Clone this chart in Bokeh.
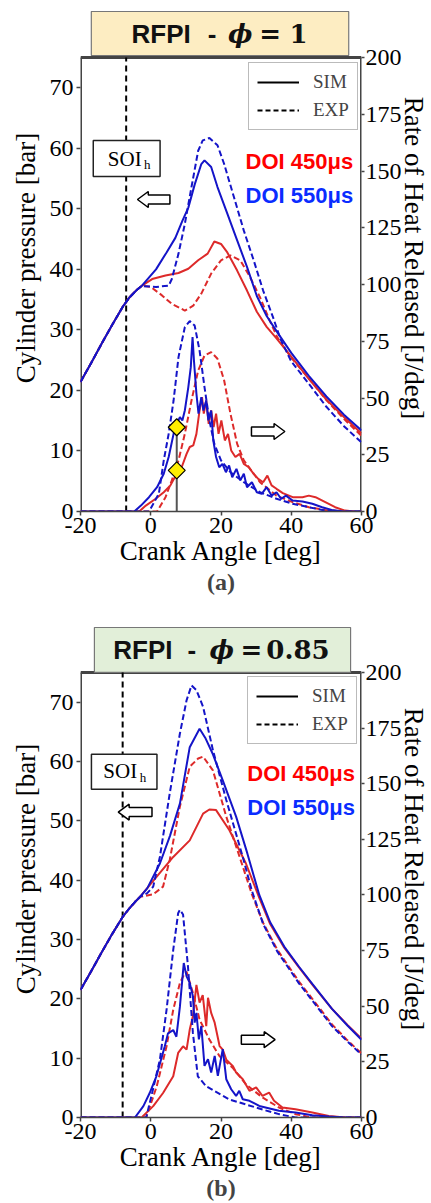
import numpy as np
from bokeh.plotting import figure
from bokeh.models import Range1d, LinearAxis, FixedTicker, Legend, LegendItem
from bokeh.layouts import column
from bokeh.embed import file_html
from bokeh.resources import INLINE
from bokeh.core.properties import value

SERIF = "Liberation Serif"
SANS = "Liberation Sans"
RED = "#DD2A2A"
BLUE = "#1414C8"
RED_TXT = "#FF0000"
BLUE_TXT = "#0A2CFF"

# ---------------- data : panel (a)  RFPI - phi = 1 ----------------
X_TICKS = [-20, 0, 20, 40, 60]
X_TICK_LABELS = {-20: "-20", 0: "0", 20: "20", 40: "40", 60: "60"}
P_TICKS = [0, 10, 20, 30, 40, 50, 60, 70]
HRR_TICKS = [0, 25, 50, 75, 100, 125, 150, 175, 200]

A_COMP_CA = [-20, -17, -14, -11, -8, -6, -4, -2.5]
A_COMP_P = [21.4, 24.5, 27.7, 30.8, 33.8, 35.4, 36.6, 37.3]

A_SIM450_CA = [0.4, 4.2, 7.9, 10.7, 13.5, 16.2, 18.1, 20.0, 21.8, 24.6, 27.4, 30.2, 33.0, 35.8, 40, 45, 50, 55, 60]
A_SIM450_P = [38.4, 39.0, 39.4, 40.1, 41.5, 42.6, 44.6, 44.2, 42.8, 39.8, 36.5, 33.0, 30.5, 28.6, 25.6, 21.9, 18.5, 15.6, 12.9]
A_SIM550_CA = [1.5, 4.5, 7.0, 9.0, 10.7, 12.5, 14.4, 15.3, 17.2, 19.0, 21.8, 24.6, 27.4, 30.2, 33.0, 35.8, 40, 45, 50, 55, 60]
A_SIM550_P = [40.0, 42.8, 45.2, 48.0, 50.2, 54.0, 57.4, 58.0, 56.9, 53.6, 49.2, 44.8, 40.4, 35.6, 32.3, 29.8, 26.2, 22.4, 19.0, 16.0, 13.4]
A_EXP450_CA = [0.0, 3.2, 6.0, 9.7, 12.1, 14.4, 17.2, 20.0, 22.7, 25.5, 28.3, 31.1, 33.9, 36.0, 40, 45, 50, 55, 60]
A_EXP450_P = [37.1, 35.7, 34.3, 33.2, 34.0, 36.0, 39.3, 41.5, 42.3, 41.5, 38.7, 35.4, 31.5, 28.8, 25.4, 22.0, 18.4, 15.3, 12.5]
A_EXP550_CA = [-1.9, 1.5, 5.1, 6.0, 7.9, 9.7, 11.6, 13.5, 14.8, 16.7, 19.0, 20.9, 23.7, 26.5, 29.3, 32.0, 34.8, 37.0, 40, 45, 50, 55, 60]
A_EXP550_P = [37.2, 37.1, 37.3, 38.4, 42.6, 47.5, 53.6, 59.6, 61.3, 61.7, 60.5, 57.4, 51.9, 46.4, 41.5, 36.5, 32.1, 28.4, 24.8, 21.1, 17.3, 14.1, 11.4]

A_HRR_SIM550_CA = [-20, -4.7, -2.8, -0.5, 1.8, 3.7, 5.1, 6.5, 7.4, 8.3, 9.0, 9.7, 10.7, 11.4, 11.9, 12.3, 13.0, 13.6, 14.4, 15.0, 15.8, 16.4, 17.2, 17.8, 18.6, 19.5, 20.4, 21.4, 22.3, 23.2, 24.4, 25.5, 26.5, 27.4, 28.8, 30.2, 31.6, 33.0, 34.4, 35.8, 37.1, 38.5, 40.4, 43.2, 46.0, 48.8, 51.5, 54.3, 60]
A_HRR_SIM550 = [0, 0, 2.6, 6.3, 10.7, 16.6, 24.0, 34.2, 38.6, 41.6, 40.1, 44.5, 54.8, 63.6, 76.8, 66.5, 51.9, 43.1, 50.4, 44.5, 48.9, 40.1, 44.5, 31.3, 24.0, 19.5, 21.0, 17.3, 20.3, 15.1, 18.8, 13.7, 16.6, 10.7, 12.9, 8.5, 7.8, 10.7, 7.0, 8.5, 5.6, 7.0, 4.8, 4.4, 3.4, 1.9, 0.7, 0.1, 0]
A_HRR_SIM450_CA = [-20, -3.3, -1.4, 1.4, 3.7, 5.6, 7.4, 8.8, 10.2, 11.1, 12.1, 13.0, 13.9, 14.6, 15.1, 15.8, 16.5, 17.2, 17.9, 18.6, 19.3, 20.1, 21.1, 22.0, 22.9, 24.1, 25.3, 26.5, 27.9, 29.3, 30.6, 32.0, 33.2, 34.4, 35.8, 37.6, 40.4, 43.2, 45.0, 46.9, 49.7, 52.5, 55.3, 58.0, 60]
A_HRR_SIM450 = [0, 0, 2.6, 5.6, 8.5, 11.5, 16.6, 19.5, 25.4, 28.4, 29.1, 34.2, 44.5, 50.4, 43.1, 48.9, 38.6, 44.5, 37.2, 43.1, 34.2, 40.1, 31.3, 34.2, 26.9, 24.0, 25.4, 21.0, 19.5, 16.6, 14.4, 12.9, 15.8, 11.5, 10.0, 8.1, 6.3, 6.3, 7.0, 6.3, 4.1, 1.9, 0.4, 0, 0]
A_HRR_EXP550_CA = [-20, -0.5, 2.3, 3.7, 5.1, 6.5, 7.9, 9.7, 11.1, 12.5, 13.9, 15.3, 16.7, 18.1, 20.0, 22.7, 26.5, 31.1, 35.8, 40.4, 45.0, 49.7, 52.5, 60]
A_HRR_EXP550 = [0, 0, 7.8, 22.5, 34.2, 48.9, 68.0, 81.2, 83.9, 81.9, 70.9, 54.8, 40.1, 29.8, 22.5, 17.3, 12.9, 8.5, 5.6, 3.4, 1.9, 0.4, 0, 0]
A_HRR_EXP450_CA = [-20, 1.8, 4.2, 6.0, 7.9, 9.7, 11.6, 13.5, 15.3, 17.2, 19.0, 20.9, 22.7, 24.6, 26.5, 31.1, 35.8, 40.4, 45.0, 49.7, 54.3, 60]
A_HRR_EXP450 = [0, 0, 6.3, 13.7, 22.5, 34.2, 48.9, 62.1, 68.7, 70.2, 67.3, 57.7, 43.0, 29.8, 22.5, 12.9, 7.0, 4.1, 1.9, 0.7, 0, 0]

A_SOI_CA = -7.0
A_MARK_CA = [7.4, 7.4]
A_MARK_HRR = [37.1, 18.1]

# ---------------- data : panel (b)  RFPI - phi = 0.85 ----------------
B_COMP_CA = [-20, -17, -14, -11, -8, -6, -4.5, -3]
B_COMP_P = [21.5, 24.6, 27.8, 30.9, 33.8, 35.3, 36.3, 37.2]

B_SIM450_CA = [1.7, 6.4, 11.1, 14.9, 16.7, 18.6, 22.4, 27.1, 30.9, 34, 38, 42.2, 46, 51.6, 56, 60]
B_SIM450_P = [40.6, 43.9, 46.7, 51.2, 51.9, 51.8, 48.4, 42.8, 37.0, 32.6, 28.6, 25.3, 22.4, 18.3, 15.6, 13.3]
B_SIM550_CA = [-1, 2.6, 5.5, 8.3, 11.1, 13.9, 15.5, 17.7, 20.5, 24.3, 27.5, 30.9, 34, 38, 42.2, 46, 51.6, 56, 60]
B_SIM550_P = [38.6, 42.8, 47.5, 52.9, 62.4, 65.5, 64.0, 61.2, 56.8, 50.7, 44.5, 37.5, 32.9, 28.8, 25.4, 22.5, 18.3, 15.5, 13.1]
B_EXP450_CA = [0.7, 3.5, 5.4, 8.3, 11.1, 13.5, 14.9, 17.7, 21.5, 26.2, 28.8, 32, 36, 42.2, 46, 51.6, 56, 60]
B_EXP450_P = [37.6, 38.9, 43.4, 52.4, 59.1, 60.5, 60.8, 58.5, 50.7, 42.3, 37.6, 32.8, 28.3, 22.9, 20.0, 15.7, 13.0, 10.8]
B_EXP550_CA = [-1, 0.7, 2.6, 5.4, 8.3, 10.2, 11.6, 13.0, 14.9, 17.7, 21.5, 26.2, 28.8, 32, 36, 42.2, 46, 51.6, 56, 60]
B_EXP550_P = [37.8, 38.9, 43.9, 54.6, 64.7, 70.3, 72.8, 72.0, 69.2, 61.9, 53.5, 43.9, 38.2, 32.6, 28.0, 22.6, 19.7, 15.4, 12.8, 10.6]

B_HRR_SIM550_CA = [-20, -4.5, -2.1, -0.3, 1.6, 4.0, 4.9, 6.4, 7.3, 8.3, 9.4, 10.2, 11.1, 12.0, 12.5, 13.0, 13.7, 14.4, 15.3, 16.3, 17.2, 18.2, 19.1, 20.5, 21.5, 22.9, 24.3, 25.2, 26.2, 28.1, 30.9, 36.5, 41.2, 46, 50.7, 55, 60]
B_HRR_SIM550 = [0, 0, 5.1, 11, 18.5, 32, 37.8, 39.3, 36.3, 49.8, 69.4, 63.4, 60.5, 54.5, 42.6, 47, 35.1, 41.1, 23.2, 26.2, 20.2, 27.7, 18.7, 30.7, 17.2, 12.7, 9.7, 12, 8.2, 7.5, 5.2, 3, 2.2, 1, 0.4, 0, 0]
B_HRR_SIM450_CA = [-20, -2.6, 0.7, 3.5, 6.4, 7.8, 9.2, 10.2, 11.1, 12, 13, 13.9, 14.8, 15.8, 16.3, 17.2, 18.2, 19.6, 20.5, 21.5, 23.4, 24.3, 26.2, 28.1, 30, 31.8, 33.7, 35.1, 37.5, 41.2, 46, 50.7, 55.4, 60]
B_HRR_SIM450 = [0, 0, 5.1, 11, 18.5, 29, 32, 30.5, 39.5, 45.5, 59.6, 51.6, 55, 41, 53.8, 47, 42.6, 32.1, 30.5, 26, 23, 20.2, 17.2, 12, 13.5, 9.7, 11.2, 7.5, 4.5, 3.7, 2.2, 0.7, 0, 0]
B_HRR_EXP550_CA = [-20, -1.3, 0.4, 2.6, 4.5, 6.4, 7.8, 8.3, 9.2, 10.6, 12.0, 13.4, 15.8, 22.4, 31.8, 36.5, 41.2, 60]
B_HRR_EXP550 = [0, 0, 11, 26, 48.4, 75.3, 91.8, 93.3, 91.2, 67.8, 38, 18.5, 14, 8.1, 3.6, 1.5, 0, 0]
B_HRR_EXP450_CA = [-20, -1.3, 1.7, 4.5, 6.4, 8.3, 9.7, 10.2, 12, 13.9, 16.7, 19.6, 23.3, 27.1, 31.8, 36.5, 41.2, 46, 60]
B_HRR_EXP450 = [0, 0, 14, 32, 48.4, 60.4, 64.9, 65.5, 56, 44, 35, 27.5, 22.4, 14.9, 9, 4.5, 1.5, 0, 0]

B_SOI_CA = -8.0

# ---------------- layout constants (canvas pixels) ----------------
PANEL_A = dict(H=600, L=75, R=361, B=511, Y75=57, T=4, tag="(a)",
               title_box=(86, 348, 11, 55), title_y=33, title_fill="#FDEDC2",
               t_rfpi=127, t_dash=209, t_phi=225, t_eq=268, t_val=297, val="1",
               legend_box=(243, 130), soi_box=(88, 156, 140, 176), soi_txt=(120, 158), soi_h=(143, 164),
               doi=(243, 161, 195), larrow=(133, 166, 199), rarrow=(249, 283, 431))
PANEL_B = dict(H=603, L=80, R=363, B=518, Y75=72, T=20, tag="(b)",
               title_box=(94, 352, 27, 72), title_y=49.5, title_fill="#E2EFD9",
               t_rfpi=113, t_dash=192, t_phi=210, t_eq=252, t_val=299, val="0.85",
               legend_box=(247, 145), soi_box=(91, 157, 154, 189), soi_txt=(120, 171), soi_h=(143, 177),
               doi=(248, 173, 207), larrow=(118, 152, 212), rarrow=(242, 276, 440))


def style_axis(ax, label_size="27px"):
    ax.major_label_text_font = SERIF
    ax.major_label_text_font_size = "24px"
    ax.major_label_text_color = "black"
    ax.axis_label_text_font = SERIF
    ax.axis_label_text_font_size = label_size
    ax.axis_label_text_font_style = "normal"
    ax.axis_label_text_color = "black"
    ax.major_tick_out = 4
    ax.major_tick_in = 0
    ax.minor_tick_line_color = None
    ax.major_tick_line_color = "#444444"
    ax.major_tick_line_width = 1.5
    ax.axis_line_color = "#444444"
    ax.axis_line_width = 1.5


def make_panel(c, pres, hrr, soi_ca, marks=None):
    L, R, B, Y75, T, H = c["L"], c["R"], c["B"], c["Y75"], c["T"], c["H"]

    def X(px):
        return -20 + (px - L) * 80.0 / (R - L)

    def Y(py):
        return (B - py) * 75.0 / (B - Y75)

    ytop = Y(T)
    p = figure(width=431, height=H, x_range=Range1d(-20, 60), y_range=Range1d(0, ytop),
               output_backend="svg", toolbar_location=None,
               min_border_left=L, min_border_right=431 - R, min_border_top=T,
               min_border_bottom=H - B)
    p.extra_y_ranges = {"hrr": Range1d(0, ytop * 200.0 / 75.0)}
    p.outline_line_color = None
    p.grid.visible = False
    p.background_fill_color = "white"
    p.border_fill_color = "white"

    p.xaxis.ticker = FixedTicker(ticks=X_TICKS)
    p.xaxis.major_label_overrides = X_TICK_LABELS
    p.xaxis.axis_label = "Crank Angle [deg]"
    style_axis(p.xaxis[0])
    p.xaxis.major_label_standoff = 2
    p.xaxis.axis_label_standoff = 0
    p.yaxis.ticker = FixedTicker(ticks=P_TICKS)
    p.yaxis.axis_label = "Cylinder pressure [bar]"
    style_axis(p.yaxis[0])
    p.yaxis.axis_line_color = None
    p.yaxis.major_label_standoff = 3
    p.yaxis.axis_label_standoff = 6

    right = LinearAxis(y_range_name="hrr", ticker=FixedTicker(ticks=HRR_TICKS),
                       axis_label="Rate of Heat Released [J/deg]")
    style_axis(right)
    right.axis_line_color = None
    right.major_tick_out = 3
    right.major_label_standoff = 1
    right.axis_label_standoff = -6
    p.add_layout(right, "right")

    tag = LinearAxis(ticker=FixedTicker(ticks=[]), axis_label=c["tag"])
    tag.axis_line_color = None
    tag.major_tick_line_color = None
    tag.major_label_text_font_size = "0px"
    tag.axis_label_text_font = SERIF
    tag.axis_label_text_font_size = "24px"
    tag.axis_label_text_font_style = "bold"
    tag.axis_label_standoff = 0
    p.add_layout(tag, "below")

    # frame (left, right, top edges)
    p.segment(x0=[-20, 60, -20], y0=[0, 0, 75], x1=[-20, 60, 60], y1=[75, 75, 75],
              line_color="#444444", line_width=3)

    # title box
    x0, x1, y0, y1 = c["title_box"]
    p.quad(left=[X(x0)], right=[X(x1)], bottom=[Y(y1)], top=[Y(y0)],
           fill_color=c["title_fill"], line_color="#777777", line_width=1.2)
    ty = Y(c["title_y"])
    p.text(x=[X(c["t_rfpi"])], y=[ty], text=["RFPI"], text_font=value(SANS),
           text_font_size=value("26px"), text_font_style="bold", text_align="left",
           text_baseline="middle", text_color="#111111")
    p.text(x=[X(c["t_dash"])], y=[ty], text=["-"], text_font=value(SANS),
           text_font_size=value("26px"), text_font_style="bold", text_align="center",
           text_baseline="middle", text_color="#111111")
    p.text(x=[X(c["t_phi"])], y=[ty], text=["\u03d5"], text_font=value("DejaVu Serif"),
           text_font_size=value("26px"), text_font_style="bold italic", text_align="left",
           text_baseline="middle", text_color="#111111")
    p.text(x=[X(c["t_eq"])], y=[ty], text=["="], text_font=value("DejaVu Serif"),
           text_font_size=value("26px"), text_font_style="bold", text_align="center",
           text_baseline="middle", text_color="#111111")
    p.text(x=[X(c["t_val"])], y=[ty], text=[c["val"]], text_font=value("DejaVu Serif"),
           text_font_size=value("26px"), text_font_style="bold", text_align="center",
           text_baseline="middle", text_color="#111111")

    # SOI line and box
    p.segment(x0=[soi_ca], y0=[0], x1=[soi_ca], y1=[75], line_color="black",
              line_width=2, line_dash="6 4")
    sx0, sx1, sy0, sy1 = c["soi_box"]
    p.quad(left=[X(sx0)], right=[X(sx1)], bottom=[Y(sy1)], top=[Y(sy0)],
           fill_color="white", line_color="#222222", line_width=1.5)
    p.text(x=[X(c["soi_txt"][0])], y=[Y(c["soi_txt"][1])], text=["SOI"], text_font=value(SERIF),
           text_font_size=value("21px"), text_align="center", text_baseline="middle",
           text_color="black")
    p.text(x=[X(c["soi_h"][0])], y=[Y(c["soi_h"][1])], text=["h"], text_font=value(SERIF),
           text_font_size=value("13px"), text_align="center", text_baseline="middle",
           text_color="black")

    # hollow arrows
    ax0, ax1, ayc = c["larrow"]
    hx = ax0 + 11
    lx = [ax0, hx, hx, ax1, ax1, hx, hx]
    ly = [ayc, ayc - 8, ayc - 4.5, ayc - 4.5, ayc + 4.5, ayc + 4.5, ayc + 8]
    p.patch([X(v) for v in lx], [Y(v) for v in ly], fill_color="white",
            line_color="black", line_width=1.5)
    bx0, bx1, byc = c["rarrow"]
    hx = bx1 - 11
    rx = [bx1, hx, hx, bx0, bx0, hx, hx]
    ry = [byc, byc - 8, byc - 4.5, byc - 4.5, byc + 4.5, byc + 4.5, byc + 8]
    p.patch([X(v) for v in rx], [Y(v) for v in ry], fill_color="white",
            line_color="black", line_width=1.5)

    # DOI labels
    dx, dy1, dy2 = c["doi"]
    p.text(x=[X(dx)], y=[Y(dy1)], text=["DOI 450\u03bcs"], text_font=value(SANS),
           text_font_size=value("22px"), text_font_style="bold", text_align="left",
           text_baseline="middle", text_color=RED_TXT)
    p.text(x=[X(dx)], y=[Y(dy2)], text=["DOI 550\u03bcs"], text_font=value(SANS),
           text_font_size=value("22px"), text_font_style="bold", text_align="left",
           text_baseline="middle", text_color=BLUE_TXT)

    # pressure curves
    comp_ca, comp_p, s450, s550, e450, e550 = pres
    for (ca, pv), col, dash in [(e450, RED, "6 3"), (s450, RED, "solid"),
                                (e550, BLUE, "6 3"), (s550, BLUE, "solid")]:
        p.line(list(comp_ca) + list(ca), list(comp_p) + list(pv), line_color=col,
               line_width=2, line_dash=dash)

    # heat release curves
    for (ca, hv), col, dash in [(hrr[2], RED, "6 3"), (hrr[0], RED, "solid"),
                                (hrr[3], BLUE, "6 3"), (hrr[1], BLUE, "solid")]:
        p.line(ca, hv, line_color=col, line_width=2, line_dash=dash, y_range_name="hrr")

    if marks is not None:
        mx, mh = marks
        p.segment(x0=[mx[0]], y0=[0], x1=[mx[0]], y1=[max(mh)], line_color="#555555",
                  line_width=2, y_range_name="hrr")
        p.scatter(mx, mh, marker="square", angle=np.pi / 4, size=12, fill_color="#FFEE00",
                  line_color="black", line_width=1.2, y_range_name="hrr")

    # legend (proxy lines lie outside the visible range)
    r1 = p.line([-200, -190], [-50, -50], line_color="black", line_width=2)
    r2 = p.line([-200, -190], [-50, -50], line_color="black", line_width=2, line_dash="5 3")
    lgx, lgy = c["legend_box"]
    legend = Legend(items=[LegendItem(label="SIM", renderers=[r1]),
                           LegendItem(label="EXP", renderers=[r2])],
                    location=(lgx - L, B - lgy))
    legend.label_text_font = SERIF
    legend.label_text_font_size = "19px"
    legend.glyph_width = 42
    legend.glyph_height = 20
    legend.label_height = 20
    legend.label_standoff = 14
    legend.padding = 8
    legend.spacing = 6
    legend.margin = 0
    legend.border_line_color = "#777777"
    legend.border_line_width = 1.5
    legend.background_fill_color = "white"
    legend.background_fill_alpha = 1.0
    p.add_layout(legend)
    return p


pa = make_panel(PANEL_A,
                (A_COMP_CA, A_COMP_P, (A_SIM450_CA, A_SIM450_P), (A_SIM550_CA, A_SIM550_P),
                 (A_EXP450_CA, A_EXP450_P), (A_EXP550_CA, A_EXP550_P)),
                ((A_HRR_SIM450_CA, A_HRR_SIM450), (A_HRR_SIM550_CA, A_HRR_SIM550),
                 (A_HRR_EXP450_CA, A_HRR_EXP450), (A_HRR_EXP550_CA, A_HRR_EXP550)),
                A_SOI_CA, marks=(A_MARK_CA, A_MARK_HRR))
pb = make_panel(PANEL_B,
                (B_COMP_CA, B_COMP_P, (B_SIM450_CA, B_SIM450_P), (B_SIM550_CA, B_SIM550_P),
                 (B_EXP450_CA, B_EXP450_P), (B_EXP550_CA, B_EXP550_P)),
                ((B_HRR_SIM450_CA, B_HRR_SIM450), (B_HRR_SIM550_CA, B_HRR_SIM550),
                 (B_HRR_EXP450_CA, B_HRR_EXP450), (B_HRR_EXP550_CA, B_HRR_EXP550)),
                B_SOI_CA)

layout = column(pa, pb, spacing=0)
open("out.html", "w").write(file_html(layout, INLINE))
